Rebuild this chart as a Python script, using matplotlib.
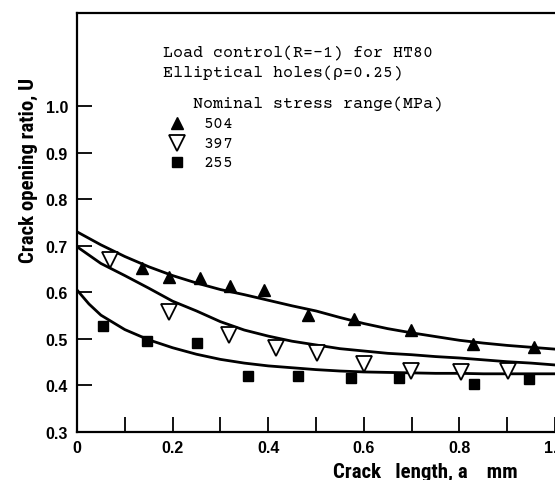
import matplotlib
matplotlib.use("Agg")
import matplotlib.pyplot as plt

# measured points: crack length a (mm), opening ratio U
a_504 = [0.136, 0.193, 0.258, 0.320, 0.391, 0.484, 0.580, 0.698, 0.829, 0.956]
u_504 = [0.652, 0.633, 0.630, 0.613, 0.605, 0.551, 0.542, 0.520, 0.490, 0.482]
a_397 = [0.068, 0.193, 0.317, 0.416, 0.502, 0.600, 0.698, 0.803, 0.901]
u_397 = [0.670, 0.557, 0.508, 0.480, 0.469, 0.447, 0.431, 0.429, 0.431]
a_255 = [0.055, 0.146, 0.250, 0.357, 0.463, 0.574, 0.673, 0.831, 0.946]
u_255 = [0.528, 0.495, 0.491, 0.421, 0.421, 0.415, 0.416, 0.404, 0.413]

# fitted curves
fit_a = [0, .05, .1, .15, .2, .25, .3, .35, .4, .45, .5, .55, .6, .65, .7,
         .75, .8, .85, .9, .95, 1.0]
fit_504 = [.730, .702, .677, .655, .636, .620, .606, .595, .583, .571, .560,
           .546, .533, .522, .513, .505, .497, .491, .486, .482, .478]
fit_397 = [.698, .662, .636, .609, .581, .560, .537, .519, .506, .495, .487,
           .479, .474, .469, .466, .462, .459, .455, .451, .448, .444]
fit_a_255 = [0, .025, .05, .1, .15, .2, .25, .3, .35, .4, .45, .5, .55, .6,
             .65, .7, .75, .8, .85, .9, .95, 1.0]
fit_255 = [.605, .575, .551, .520, .498, .481, .467, .456, .448, .442, .438,
           .434, .431, .429, .428, .427, .426, .426, .425, .425, .425, .425]

stress_labels = ["504", "397", "255"]

narrow = ["Roboto Condensed", "Archivo Narrow", "PT Sans Narrow",
          "Liberation Sans Narrow", "Arial Narrow", "Nimbus Sans Narrow",
          "Open Sans Condensed", "Liberation Sans"]
label_font = dict(family=narrow, fontweight="bold", fontsize=15)
mono = dict(family=["Courier Prime", "Nimbus Mono PS", "Courier New",
                    "Liberation Mono", "DejaVu Sans Mono"], fontsize=12)

fig = plt.figure(figsize=(5.55, 4.81), dpi=100)
ax = fig.add_axes([77 / 555, 48 / 481, 478 / 555, 419 / 481])

ax.plot(fit_a, fit_504, color="black", lw=2)
ax.plot(fit_a, fit_397, color="black", lw=2)
ax.plot(fit_a_255, fit_255, color="black", lw=2)

tri_kw = dict(ls="none", marker="^", ms=8.5, color="black", clip_on=False)
inv_kw = dict(ls="none", marker="v", ms=12, mfc="white", mec="black",
              mew=1.3, clip_on=False)
sq_kw = dict(ls="none", marker="s", ms=7.5, color="black", clip_on=False)
ax.plot(a_504, u_504, **tri_kw)
ax.plot(a_397, u_397, **inv_kw)
ax.plot(a_255, u_255, **sq_kw)

# legend drawn by hand like the original
ax.text(0.1805, 1.115, "Load control(R=-1) for HT80", va="center", **mono)
ax.text(0.1805, 1.072, "Elliptical holes(ρ=0.25)", va="center", **mono)
ax.text(0.242, 1.005, "Nominal stress range(MPa)", va="center", **mono)
leg_u = [0.964, 0.921, 0.880]
ax.plot([0.2086], [leg_u[0]], **tri_kw)
ax.plot([0.2086], [leg_u[1]], **inv_kw)
ax.plot([0.2086], [leg_u[2]], **sq_kw)
for u, s in zip(leg_u, stress_labels):
    ax.text(0.264, u, s, va="center", **mono)

ax.set_xlim(0, 1.0)
ax.set_ylim(0.3, 1.2)
ax.set_xticks([0, 0.2, 0.4, 0.6, 0.8, 1.0])
ax.set_xticklabels(["0", "0.2", "0.4", "0.6", "0.8", "1.0"])
ax.set_xticks([0.1, 0.3, 0.5, 0.7, 0.9], minor=True)
ax.set_yticks([0.3, 0.4, 0.5, 0.6, 0.7, 0.8, 0.9, 1.0])
ax.tick_params(which="both", direction="in", length=11, width=1.3)
ax.tick_params(axis="y", pad=6.5)
ax.tick_params(axis="x", pad=6)
for lab in ax.get_xticklabels() + ax.get_yticklabels():
    lab.set_family(["Liberation Sans", "DejaVu Sans"])
    lab.set_fontweight("bold")
    lab.set_fontsize(11.5)

ax.spines["right"].set_visible(False)
for s in ["left", "top", "bottom"]:
    ax.spines[s].set_linewidth(1.6)

fig.text(28 / 555, 1 - 170 / 481, "Crack opening ratio, U", rotation=90,
         ha="center", va="center", **label_font)
fig.text(333 / 555, 1 - 472 / 481, "Crack   length, a    mm",
         ha="left", va="center", **label_font)

fig.savefig("out.png", dpi=100)
